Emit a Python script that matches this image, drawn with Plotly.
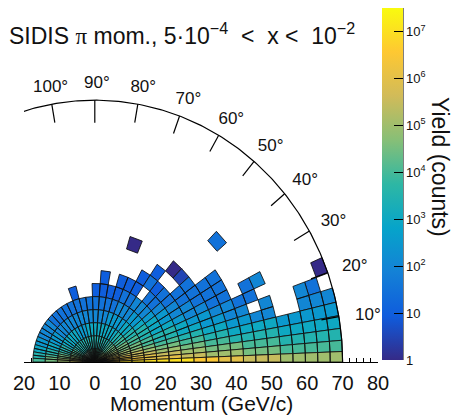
import numpy as np
import plotly.graph_objects as go
from plotly.colors import sample_colorscale

# ---------------- data ----------------
NB = "\u00a0"
title_text = ("SIDIS <span style=\"font-family:'Liberation Serif'\">π</span> mom., "
              f"5·10<sup>−4</sup>{NB}{NB}<{NB}{NB}x{NB}<{NB}{NB}10<sup>−2</sup>")
mom_edges = [0, 3.5, 7, 10.5, 14, 17.5, 21, 24.5, 28, 31.5, 35, 38.5, 42, 45.5,
             49, 52.5, 56, 59.5, 63, 66.5, 70]
# polar-angle bin edges (deg): fine forward, wider near 90 deg
theta_edges = [0, 2.3, 4.76, 7.39, 10.2, 13.21, 16.42, 19.85, 23.51, 27.41, 31.55,
               35.94, 40.59, 45.49, 50.64, 56.03, 61.65, 67.47, 73.47, 79.61, 85.84,
               92.13, 98.43, 104.69, 110.86, 116.9, 122.77, 128.43, 133.87, 139.05,
               143.97, 148.62, 153.0, 157.12, 160.98, 164.58, 167.94, 171.08, 174.0,
               176.72, 180]
level_codes = "ABCDEFGHIJKLMNO"          # log10(yield) = 0, 0.5, ... 7
level_log = [0, 0.5, 1, 1.5, 2, 2.5, 3, 3.5, 4, 4.5, 5, 5.5, 6, 6.5, 7]
# one string per angular bin (from 0 deg), one character per momentum bin ('.' = empty)
yield_rows = [
    "MNOOOOOONNMMLLLKKKKK",
    "NNNNMMMLLKKKJJJIIIII",
    "NNMMMLLKKJJJIIIHHHHH",
    "NMMLLKKJJIIHHHHGGGGG",
    "MMLLKJJIIHHGGGGFFFFF",
    "MLKKJIIHHGGFFEE..EEE",
    "LKKJIHHGGFFEE.E..ED.",
    "LKJJIHHGFFEEDD.....A",
    "LKJIHGGFEEDD.DE",
    "KJJIHGFEEDDD",
    "KJIHHGFEDDDD",
    "KJIHGFEDDD",
    "JIHGFEDD.B...D",
    "JIHGFEDC.A",
    "IHGFEE.DC",
    "IHGFEDCC",
    "IHGFEDC",
    "IHGFDCC..A",
    "IHGEDC",
    "IHGEDCC",
    "IHGEDC",
    "IHGED",
    "IHGED",
    "IHFEDC",
    "IHFED",
    "IHFED",
    "IHGED",
    "IHGED",
    "IHGED",
    "IHGEE",
    "JHGFE",
    "JIGFE",
    "JIHFE",
    "KIHGF",
    "KJHGF",
    "KJIHG",
    "LKJHG",
    "LKJIH",
    "MLKJH",
    "MLKJI",
]
x_tick_vals = [-20, -10, 0, 10, 20, 30, 40, 50, 60, 70, 80]
x_tick_text = ["20", "10", "0", "10", "20", "30", "40", "50", "60", "70", "80"]
angle_ticks = [10, 20, 30, 40, 50, 60, 70, 80, 90, 100]
arc_radius = 70
arc_max_angle = 110
cbar_vals = [0, 1, 2, 3, 4, 5, 6, 7]
cbar_text = ["1", "10", "10<sup>2</sup>", "10<sup>3</sup>", "10<sup>4</sup>",
             "10<sup>5</sup>", "10<sup>6</sup>", "10<sup>7</sup>"]
zmin_log, zmax_log = 0, 7.5

bird = [[0.0, "rgb(53,42,135)"], [0.125, "rgb(15,92,221)"], [0.25, "rgb(20,129,214)"],
        [0.375, "rgb(6,164,202)"], [0.5, "rgb(46,183,164)"], [0.625, "rgb(135,191,119)"],
        [0.75, "rgb(209,187,89)"], [0.875, "rgb(254,200,50)"], [1.0, "rgb(249,251,14)"]]

FONT = "Liberation Sans, Arial, sans-serif"

# ---------------- geometry ----------------
W, H = 458, 415
ml, mr, mt, mb = 24, 80, 6, 53
pw, ph = W - ml - mr, H - mt - mb
x_range = [-20, 80]
px_per_y = 3.74
y_range = [0, ph / px_per_y]


def py(ypx):
    """pixel row -> paper y"""
    return (H - mb - ypx) / ph


def px(xpx):
    """pixel column -> paper x"""
    return (xpx - ml) / pw


fig = go.Figure()

# cells grouped by colour level
cells = {c: ([], []) for c in level_codes}
for i, row in enumerate(yield_rows):
    t0, t1 = np.radians(theta_edges[i]), np.radians(theta_edges[i + 1])
    ts = np.linspace(t0, t1, 6)
    for j, ch in enumerate(row):
        if ch not in level_codes:
            continue
        r0, r1 = mom_edges[j], mom_edges[j + 1]
        xs = list(r0 * np.cos(ts)) + list(r1 * np.cos(ts[::-1]))
        ys = list(r0 * np.sin(ts)) + list(r1 * np.sin(ts[::-1]))
        xs.append(xs[0]); ys.append(ys[0])
        cells[ch][0].extend(xs + [None])
        cells[ch][1].extend(ys + [None])

for ch in level_codes:
    xs, ys = cells[ch]
    if not xs:
        continue
    lg = level_log[level_codes.index(ch)]
    col = sample_colorscale(bird, [(lg - zmin_log) / (zmax_log - zmin_log)])[0]
    fig.add_trace(go.Scatter(x=xs, y=ys, mode="lines", fill="toself", fillcolor=col,
                             line=dict(color="rgba(15,15,15,0.95)", width=0.9),
                             hoverinfo="skip", showlegend=False))

# angular arc
ta = np.radians(np.linspace(0, arc_max_angle, 200))
fig.add_trace(go.Scatter(x=arc_radius * np.cos(ta), y=arc_radius * np.sin(ta), mode="lines",
                         line=dict(color="black", width=1.2), hoverinfo="skip", showlegend=False))
tx, ty = [], []
for a in angle_ticks:
    ar = np.radians(a)
    ln = 6.0 if a == 90 else 5.0
    tx += [arc_radius * np.cos(ar), (arc_radius - ln) * np.cos(ar), None]
    ty += [arc_radius * np.sin(ar), (arc_radius - ln) * np.sin(ar), None]
fig.add_trace(go.Scatter(x=tx, y=ty, mode="lines", line=dict(color="black", width=1.2),
                         hoverinfo="skip", showlegend=False))
lab_r = [75.3 + 2.5 * np.cos(np.radians(a)) ** 2 for a in angle_ticks]
fig.add_trace(go.Scatter(x=[r * np.cos(np.radians(a)) + 0.6 for r, a in zip(lab_r, angle_ticks)],
                         y=[r * np.sin(np.radians(a)) - 1.0 for r, a in zip(lab_r, angle_ticks)],
                         mode="text", text=[f"{a}°" for a in angle_ticks],
                         textfont=dict(size=17, color="#111", family=FONT),
                         cliponaxis=False, hoverinfo="skip", showlegend=False))

# colorbar carrier
cb_bottom_px, cb_top_px = 360, 8
fig.add_trace(go.Scatter(x=[-100], y=[-100], mode="markers",
                         marker=dict(color=[0], cmin=zmin_log, cmax=zmax_log, colorscale=bird,
                                     showscale=True,
                                     colorbar=dict(x=px(382), xanchor="left", xpad=0, ypad=0,
                                                   thickness=21, thicknessmode="pixels",
                                                   len=cb_bottom_px - cb_top_px, lenmode="pixels",
                                                   y=py(cb_bottom_px), yanchor="bottom",
                                                   ticks="inside", ticklen=9, tickcolor="black",
                                                   tickvals=cbar_vals, ticktext=cbar_text,
                                                   tickfont=dict(size=13, family=FONT, color="#111"),
                                                   outlinewidth=0)),
                         hoverinfo="skip", showlegend=False))

# minor colorbar ticks and right edge line
shapes = []
xr_paper = px(403)
for d in range(8):
    for k in range(2, 10):
        lv = d + np.log10(k)
        if lv > zmax_log:
            continue
        ypx = cb_bottom_px - (cb_bottom_px - cb_top_px) * lv / zmax_log
        shapes.append(dict(type="line", xref="paper", yref="paper", x0=xr_paper - 4 / pw, x1=xr_paper,
                           y0=py(ypx), y1=py(ypx), line=dict(color="black", width=1)))
shapes.append(dict(type="line", xref="paper", yref="paper", x0=xr_paper, x1=xr_paper,
                   y0=py(cb_bottom_px), y1=py(cb_top_px), line=dict(color="black", width=1)))

fig.update_layout(
    width=W, height=H, margin=dict(l=ml, r=mr, t=mt, b=mb, autoexpand=False),
    paper_bgcolor="white", plot_bgcolor="white",
    font=dict(family=FONT, color="#111"),
    showlegend=False, shapes=shapes,
    xaxis=dict(range=x_range, tickmode="array", tickvals=x_tick_vals, ticktext=x_tick_text,
               showgrid=False, zeroline=False, showline=True, linecolor="black", linewidth=1,
               ticks="inside", ticklen=9, tickcolor="black", layer="below traces",
               ticklabelstandoff=3,
               tickfont=dict(size=20, family=FONT, color="#111"),
               minor=dict(tickmode="linear", tick0=0, dtick=2, ticks="inside", ticklen=4,
                          tickcolor="black", showgrid=False)),
    yaxis=dict(range=y_range, visible=False),
    annotations=[
        dict(text=title_text, xref="paper", yref="paper", x=px(7), y=py(34),
             xanchor="left", yanchor="middle", showarrow=False,
             font=dict(size=23, family=FONT, color="#111")),
        dict(text="Momentum (GeV/c)", xref="x", yref="paper", x=30, y=py(403),
             xanchor="center", yanchor="middle", showarrow=False,
             font=dict(size=21, family=FONT, color="#111")),
        dict(text="Yield (counts)", xref="paper", yref="paper", x=px(440), y=py(167),
             xanchor="center", yanchor="middle", textangle=90, showarrow=False,
             font=dict(size=23, family=FONT, color="#111")),
    ],
)

fig.write_html("out.html")
